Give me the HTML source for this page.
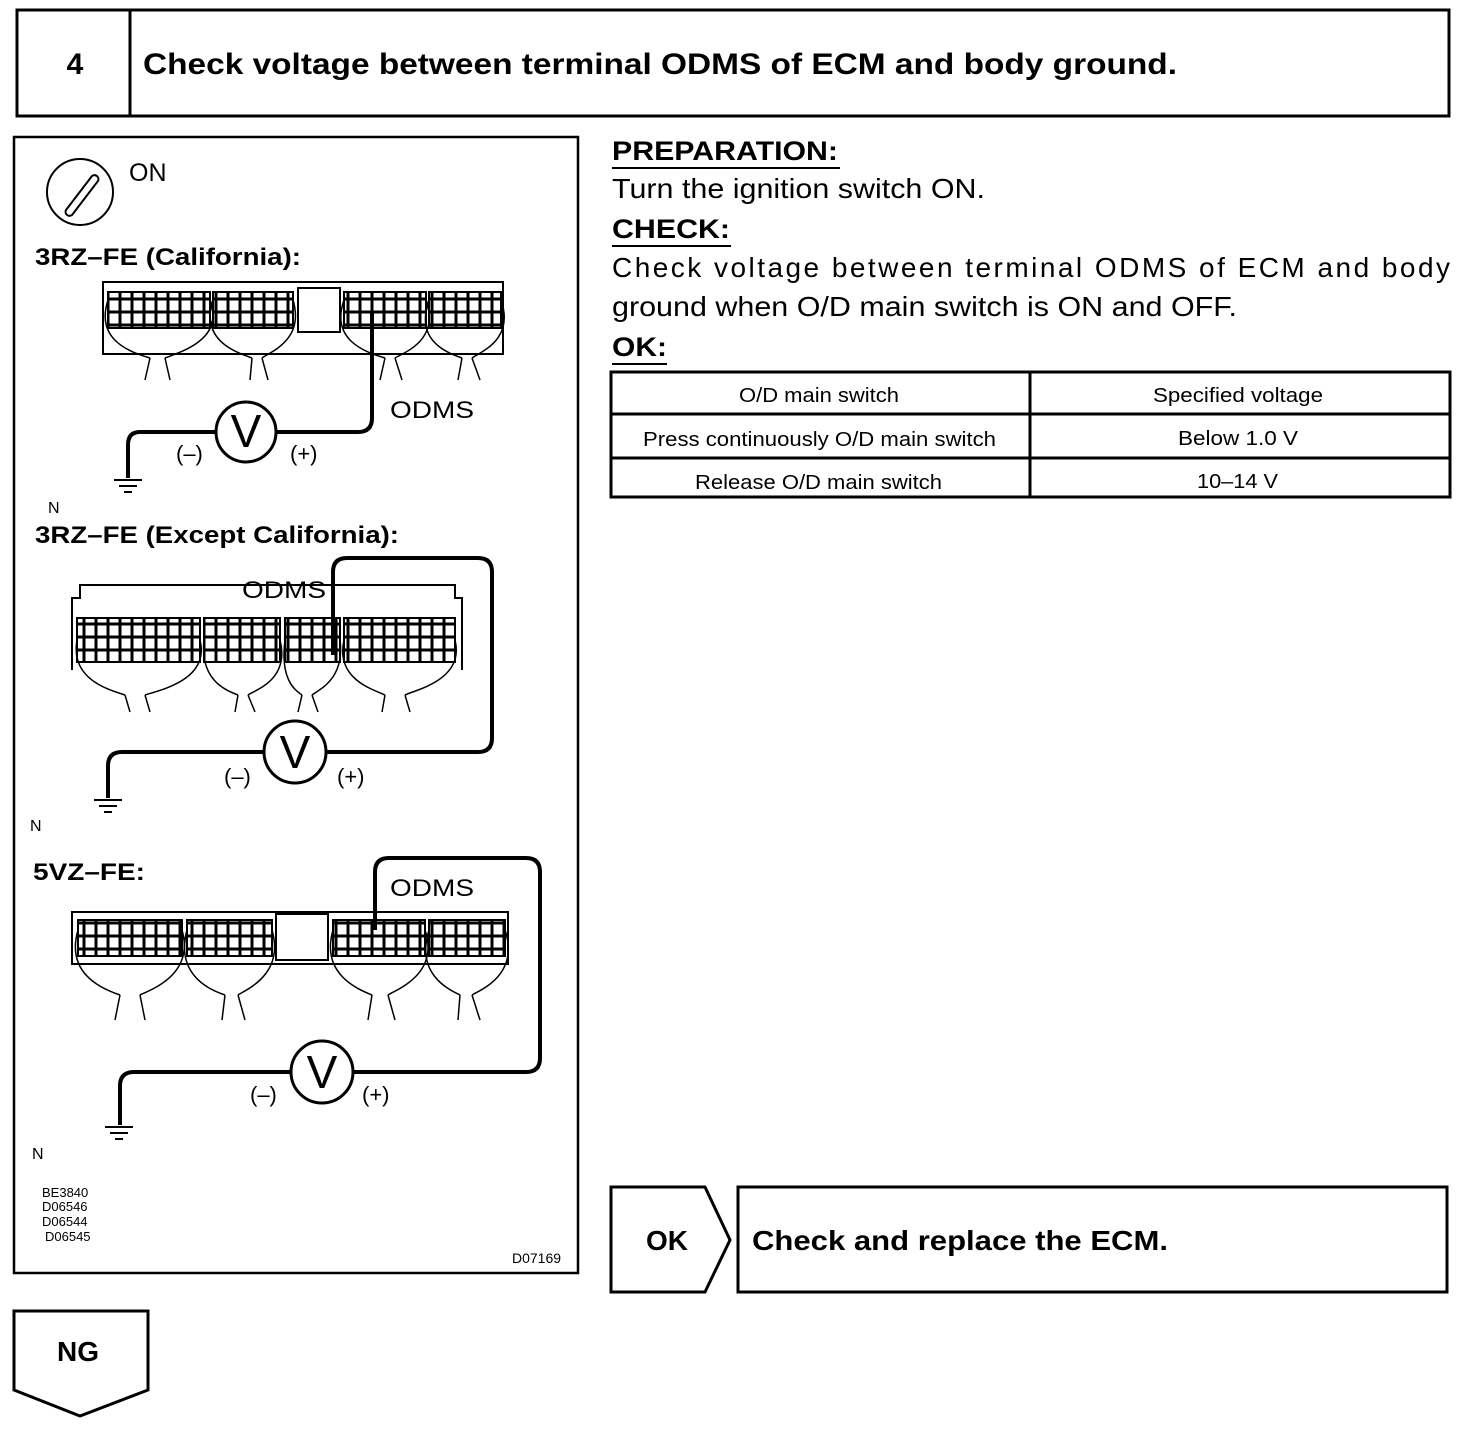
<!DOCTYPE html>
<html><head><meta charset="utf-8"><style>
body{margin:0;background:#fff}
svg{display:block;font-family:"Liberation Sans",Arial,sans-serif}
</style></head><body>
<svg width="1472" height="1438" viewBox="0 0 1472 1438" xmlns="http://www.w3.org/2000/svg">
<defs>
<pattern id="g" width="12" height="13" patternUnits="userSpaceOnUse"><rect width="12" height="13" fill="#fff"/><rect x="0.5" y="0.5" width="11" height="12" fill="none" stroke="#000" stroke-width="2"/></pattern>
</defs>
<g fill="none" stroke="#000">
<rect x="17" y="10" width="1432" height="106" stroke-width="3"/>
<line x1="130" y1="10" x2="130" y2="116" stroke-width="3"/>
<rect x="14" y="137" width="564" height="1136" stroke-width="2.5"/>
<circle cx="80" cy="192" r="33" stroke-width="2"/>
<path d="M66 210 L92 176 a4 4 0 0 1 6 5 L72 215 a4 4 0 0 1 -6 -5z" stroke-width="2"/>

<rect x="103" y="282" width="400" height="72" stroke-width="2"/>
<rect x="108" y="292" width="102" height="36" fill="url(#g)" stroke-width="2"/>
<rect x="213" y="292" width="80" height="36" fill="url(#g)" stroke-width="2"/>
<rect x="298" y="288" width="42" height="44" stroke-width="2"/>
<rect x="344" y="292" width="82" height="36" fill="url(#g)" stroke-width="2"/>
<rect x="429" y="292" width="72" height="36" fill="url(#g)" stroke-width="2"/>
<g stroke-width="1.5">
<path d="M108 300 C95 340 130 352 150 358 M210 300 C225 340 180 352 165 358 M150 358 L145 380 M165 358 L170 380"/>
<path d="M213 300 C200 340 235 352 252 358 M293 300 C305 340 270 352 262 358 M252 358 L250 380 M262 358 L268 380"/>
<path d="M344 300 C330 340 365 352 385 358 M426 300 C440 340 405 352 395 358 M385 358 L380 380 M395 358 L402 380"/>
<path d="M429 300 C415 340 445 352 462 358 M501 300 C515 340 480 352 472 358 M462 358 L458 380 M472 358 L480 380"/>
</g>
<path d="M372 312 V418 Q372 432 358 432 H276 M216 432 H140 Q128 432 128 445 V478" stroke-width="4"/>
<circle cx="246" cy="432" r="30" stroke-width="3"/>
<path d="M114 480 H142 M119 486 H137 M124 492 H132" stroke-width="2"/>

<path d="M72 670 V598 H80 V585 H455 V598 H462 V670" stroke-width="2"/>
<rect x="77" y="618" width="123" height="44" fill="url(#g)" stroke-width="2"/>
<rect x="204" y="618" width="76" height="44" fill="url(#g)" stroke-width="2"/>
<rect x="285" y="618" width="55" height="44" fill="url(#g)" stroke-width="2"/>
<rect x="344" y="618" width="111" height="44" fill="url(#g)" stroke-width="2"/>
<g stroke-width="1.5">
<path d="M77 640 C70 680 110 690 125 695 M200 640 C210 680 160 690 145 695 M125 695 L130 712 M145 695 L150 712"/>
<path d="M204 640 C200 680 225 690 238 695 M280 640 C290 680 255 690 248 695 M238 695 L235 712 M248 695 L255 712"/>
<path d="M285 640 C280 680 295 690 302 695 M340 640 C345 680 318 690 312 695 M302 695 L298 712 M312 695 L318 712"/>
<path d="M344 640 C335 680 375 690 385 695 M455 640 C465 680 415 690 405 695 M385 695 L382 712 M405 695 L410 712"/>
</g>
<path d="M333 655 V572 Q333 558 347 558 H478 Q492 558 492 572 V738 Q492 752 478 752 H326 M264 752 H122 Q108 752 108 766 V798" stroke-width="4"/>
<circle cx="295" cy="752" r="31" stroke-width="3"/>
<path d="M94 800 H122 M99 806 H117 M104 812 H112" stroke-width="2"/>

<rect x="72" y="912" width="436" height="52" stroke-width="2"/>
<rect x="78" y="920" width="104" height="36" fill="url(#g)" stroke-width="2"/>
<rect x="187" y="920" width="85" height="36" fill="url(#g)" stroke-width="2"/>
<rect x="276" y="914" width="52" height="46" stroke-width="2"/>
<rect x="333" y="920" width="92" height="36" fill="url(#g)" stroke-width="2"/>
<rect x="429" y="920" width="76" height="36" fill="url(#g)" stroke-width="2"/>
<g stroke-width="1.5">
<path d="M78 930 C65 975 105 990 120 995 M182 930 C195 975 150 990 140 995 M120 995 L115 1020 M140 995 L145 1020"/>
<path d="M187 930 C175 975 210 990 225 995 M272 930 C285 975 245 990 238 995 M225 995 L222 1020 M238 995 L245 1020"/>
<path d="M333 930 C320 975 360 990 372 995 M425 930 C440 975 395 990 388 995 M372 995 L368 1020 M388 995 L395 1020"/>
<path d="M429 930 C415 975 450 990 460 995 M505 930 C520 975 480 990 472 995 M460 995 L458 1020 M472 995 L480 1020"/>
</g>
<path d="M375 930 V872 Q375 858 389 858 H526 Q540 858 540 872 V1058 Q540 1072 526 1072 H353 M291 1072 H134 Q120 1072 120 1086 V1125" stroke-width="4"/>
<circle cx="322" cy="1072" r="31" stroke-width="3"/>
<path d="M105 1127 H133 M110 1133 H128 M115 1139 H123" stroke-width="2"/>

<rect x="611" y="372" width="839" height="125" stroke-width="3"/>
<line x1="611" y1="414" x2="1450" y2="414" stroke-width="3"/>
<line x1="611" y1="458" x2="1450" y2="458" stroke-width="3"/>
<line x1="1030" y1="372" x2="1030" y2="497" stroke-width="3"/>
<line x1="612" y1="168" x2="840" y2="168" stroke-width="2"/>
<line x1="612" y1="246" x2="731" y2="246" stroke-width="2"/>
<line x1="612" y1="364" x2="667" y2="364" stroke-width="2"/>
<path d="M611 1187 H705 L730 1240 L705 1292 H611 Z" stroke-width="3"/>
<rect x="738" y="1187" width="709" height="105" stroke-width="3"/>
<path d="M14 1311 H148 V1390 L80 1416 L14 1390 Z" stroke-width="3"/>
</g>
<g fill="#000">
<text x="75" y="74" font-size="30" font-weight="bold" text-anchor="middle">4</text>
<text x="143" y="74" font-size="30" font-weight="bold" textLength="1034" lengthAdjust="spacingAndGlyphs">Check voltage between terminal ODMS of ECM and body ground.</text>
<text x="129" y="181" font-size="25">ON</text>
<text x="35" y="265" font-size="24" font-weight="bold" textLength="266" lengthAdjust="spacingAndGlyphs">3RZ–FE (California):</text>
<text x="246" y="447" font-size="46" text-anchor="middle">V</text>
<text x="390" y="418" font-size="24" textLength="84" lengthAdjust="spacingAndGlyphs">ODMS</text>
<text x="176" y="461" font-size="22">(–)</text>
<text x="290" y="461" font-size="22">(+)</text>
<text x="48" y="513" font-size="16">N</text>
<text x="35" y="543" font-size="24" font-weight="bold" textLength="364" lengthAdjust="spacingAndGlyphs">3RZ–FE (Except California):</text>
<text x="242" y="598" font-size="24" textLength="84" lengthAdjust="spacingAndGlyphs">ODMS</text>
<text x="295" y="768" font-size="46" text-anchor="middle">V</text>
<text x="224" y="784" font-size="22">(–)</text>
<text x="337" y="784" font-size="22">(+)</text>
<text x="30" y="831" font-size="16">N</text>
<text x="33" y="880" font-size="24" font-weight="bold" textLength="112" lengthAdjust="spacingAndGlyphs">5VZ–FE:</text>
<text x="390" y="896" font-size="24" textLength="84" lengthAdjust="spacingAndGlyphs">ODMS</text>
<text x="322" y="1088" font-size="46" text-anchor="middle">V</text>
<text x="250" y="1102" font-size="22">(–)</text>
<text x="362" y="1102" font-size="22">(+)</text>
<text x="32" y="1159" font-size="16">N</text>
<text x="42" y="1197" font-size="13">BE3840</text>
<text x="42" y="1211" font-size="13">D06546</text>
<text x="42" y="1226" font-size="13">D06544</text>
<text x="45" y="1241" font-size="13">D06545</text>
<text x="512" y="1263" font-size="14">D07169</text>

<text x="612" y="160" font-size="27" font-weight="bold" textLength="226" lengthAdjust="spacingAndGlyphs">PREPARATION:</text>
<text x="612" y="198" font-size="28" textLength="373" lengthAdjust="spacingAndGlyphs">Turn the ignition switch ON.</text>
<text x="612" y="238" font-size="27" font-weight="bold" textLength="118" lengthAdjust="spacingAndGlyphs">CHECK:</text>
<text x="612" y="277" font-size="28" textLength="838" lengthAdjust="spacing">Check voltage between terminal ODMS of ECM and body</text>
<text x="612" y="316" font-size="28" textLength="625" lengthAdjust="spacingAndGlyphs">ground when O/D main switch is ON and OFF.</text>
<text x="612" y="356" font-size="27" font-weight="bold" textLength="55" lengthAdjust="spacingAndGlyphs">OK:</text>
<g font-size="20">
<text x="739" y="402" textLength="160" lengthAdjust="spacingAndGlyphs">O/D main switch</text>
<text x="1153" y="402" textLength="170" lengthAdjust="spacingAndGlyphs">Specified voltage</text>
<text x="643" y="446" textLength="353" lengthAdjust="spacingAndGlyphs">Press continuously O/D main switch</text>
<text x="1178" y="445" textLength="120" lengthAdjust="spacingAndGlyphs">Below 1.0 V</text>
<text x="695" y="489" textLength="247" lengthAdjust="spacingAndGlyphs">Release O/D main switch</text>
<text x="1197" y="488" textLength="81" lengthAdjust="spacingAndGlyphs">10–14 V</text>
</g>
<text x="667" y="1250" font-size="28" font-weight="bold" text-anchor="middle">OK</text>
<text x="752" y="1250" font-size="28" font-weight="bold" textLength="416" lengthAdjust="spacingAndGlyphs">Check and replace the ECM.</text>
<text x="78" y="1361" font-size="28" font-weight="bold" text-anchor="middle">NG</text>
</g>
</svg>
</body></html>
